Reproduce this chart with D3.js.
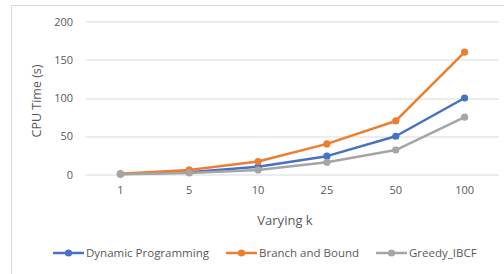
<!DOCTYPE html>
<html>
<head>
<meta charset="utf-8">
<script src="https://cdn.jsdelivr.net/npm/d3@7"></script>
<style>
  body { margin: 0; background: #fff; }
  text { font-family: "Open Sans", "Liberation Sans", sans-serif; fill: #595959; }
</style>
</head>
<body>
<div id="chart"></div>
<script>
// Chart data
const kValues = ["1", "5", "10", "25", "50", "100"];
const dynamicProgramming = [0.5, 3, 10, 24, 50, 100];
const branchAndBound = [1, 6, 17, 40, 70, 160];
const greedyIBCF = [0.3, 2, 6, 16, 32, 75];
const yTicks = [0, 50, 100, 150, 200];

const seriesList = [
    { name: "Dynamic Programming", values: dynamicProgramming, color: "#4472C4" },
    { name: "Branch and Bound", values: branchAndBound, color: "#ED7D31" },
    { name: "Greedy_IBCF", values: greedyIBCF, color: "#A5A5A5" }
];

const width = 504;
const height = 274;
const margin = { top: 21.5, right: 5, bottom: 99.5, left: 86 };
const plotW = width - margin.left - margin.right;
const plotH = height - margin.top - margin.bottom;

const svg = d3.select("#chart")
    .append("svg")
    .attr("width", width)
    .attr("height", height);

// Outer chart border
svg.append("rect")
    .attr("x", 11.5)
    .attr("y", 5.5)
    .attr("width", 500)
    .attr("height", 280)
    .attr("fill", "none")
    .attr("stroke", "#d9d9d9");

const g = svg.append("g")
    .attr("transform", `translate(${margin.left}, ${margin.top})`);

const x = d3.scaleBand()
    .domain(kValues)
    .range([0, plotW]);

const y = d3.scaleLinear()
    .domain([0, 200])
    .range([plotH, 0]);

// Gridlines
g.append("g")
    .selectAll("line")
    .data(yTicks)
    .enter()
    .append("line")
    .attr("x1", 0)
    .attr("x2", plotW)
    .attr("y1", d => Math.round(y(d)) + 0.5)
    .attr("y2", d => Math.round(y(d)) + 0.5)
    .attr("stroke", "#d9d9d9")
    .attr("stroke-width", 1);

// Y axis labels
const yAxis = g.append("g")
    .attr("transform", "translate(-13, 0)")
    .call(d3.axisLeft(y).tickValues(yTicks).tickSize(0).tickPadding(0));
yAxis.select(".domain").remove();
yAxis.selectAll("text")
    .attr("font-size", "11px")
    .attr("fill", "#595959")
    .style("font-family", "'Open Sans', sans-serif");

// X axis labels
const xAxis = g.append("g")
    .attr("transform", `translate(0, ${plotH + 12})`)
    .call(d3.axisBottom(x).tickSize(0).tickPadding(0));
xAxis.select(".domain").remove();
xAxis.selectAll("text")
    .attr("font-size", "11px")
    .attr("fill", "#595959")
    .style("font-family", "'Open Sans', sans-serif");

// Lines and markers
const line = d3.line()
    .x((d, i) => x(kValues[i]) + x.bandwidth() / 2)
    .y(d => y(d));

seriesList.forEach(s => {
    g.append("path")
        .datum(s.values)
        .attr("d", line)
        .attr("fill", "none")
        .attr("stroke", s.color)
        .attr("stroke-width", 2.5)
        .attr("stroke-linejoin", "round");

    g.selectAll(null)
        .data(s.values)
        .enter()
        .append("circle")
        .attr("cx", (d, i) => x(kValues[i]) + x.bandwidth() / 2)
        .attr("cy", d => y(d))
        .attr("r", 3.6)
        .attr("fill", s.color);
});

// Axis titles
svg.append("text")
    .attr("x", 285)
    .attr("y", 225)
    .attr("text-anchor", "middle")
    .attr("font-size", "13px")
    .text("Varying k");

svg.append("text")
    .attr("transform", "translate(41, 101) rotate(-90)")
    .attr("text-anchor", "middle")
    .attr("font-size", "12.5px")
    .text("CPU Time (s)");

// Legend
const legendPos = [53, 226, 376];
seriesList.forEach((s, i) => {
    const lg = svg.append("g")
        .attr("transform", `translate(${legendPos[i]}, 253)`);
    lg.append("line")
        .attr("x1", 0)
        .attr("x2", 31)
        .attr("stroke", s.color)
        .attr("stroke-width", 2.5);
    lg.append("circle")
        .attr("cx", 15.5)
        .attr("r", 3.6)
        .attr("fill", s.color);
    lg.append("text")
        .attr("x", 33)
        .attr("y", 4)
        .attr("font-size", "11.5px")
        .text(s.name);
});
</script>
</body>
</html>
